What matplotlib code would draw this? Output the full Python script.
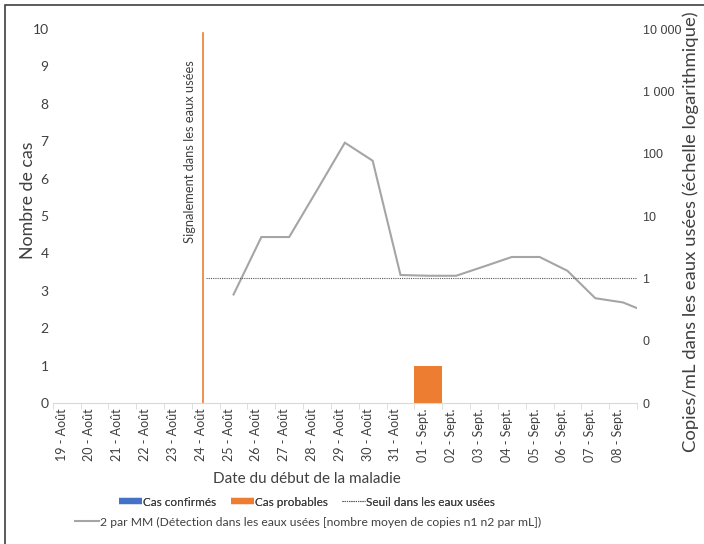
import matplotlib; matplotlib.use("Agg")
import matplotlib.pyplot as plt
import matplotlib.transforms as mtransforms
from matplotlib.lines import Line2D
from matplotlib.patches import Rectangle
from matplotlib.ticker import FixedLocator, FuncFormatter
import numpy as np

plt.rcParams['font.family'] = ['Lato', 'DejaVu Sans']
plt.rcParams['font.weight'] = 'normal'

BLUE = "#4472C4"; ORANGE = "#ED7D31"; GREY = "#A5A5A5"; TXT = "#404040"; AXIS = "#D9D9D9"

# --- data -------------------------------------------------------------
dates = ["19 - Août", "20 - Août", "21 - Août", "22 - Août", "23 - Août", "24 - Août",
         "25 - Août", "26 - Août", "27 - Août", "28 - Août", "29 - Août", "30 - Août",
         "31 - Août", "01 - Sept.", "02 - Sept.", "03 - Sept.", "04 - Sept.", "05 - Sept.",
         "06 - Sept.", "07 - Sept.", "08 - Sept."]
cas_confirmes = [0, 0, 0, 0, 0, 0, 0, 0, 0, 0, 0, 0, 0, 0, 0, 0, 0, 0, 0, 0, 0]
cas_probables = [0, 0, 0, 0, 0, 0, 0, 0, 0, 0, 0, 0, 0, 1, 0, 0, 0, 0, 0, 0, 0]

# copies/mL, from 25 Aug up to 09 Sept (last point falls past the axis edge)
eaux_debut = "25 - Août"
copies_ml = [0.55, 4.6, 4.6, 26, 150, 77, 1.13, 1.1, 1.1, 1.55, 2.2, 2.2, 1.32, 0.48, 0.41, 0.27]
seuil = 1.0
signalement = "24 - Août"

# --- figure -----------------------------------------------------------
fig = plt.figure(figsize=(7.04, 5.44), dpi=100)
fig.patch.set_facecolor("white")
ax = fig.add_axes([52.7/704, 1-403/544, (637-52.7)/704, 374/544])
ax2 = ax.twinx()

x = np.arange(len(dates))
ax.bar(x, cas_confirmes, width=1.0, color=BLUE, label="Cas confirmés")
ax.bar(x, cas_probables, width=1.0, bottom=cas_confirmes, color=ORANGE, label="Cas probables")

xs = dates.index(signalement)
ax.axvline(xs - 0.1, ymin=0, ymax=0.99, color=ORANGE, lw=1.2)
ax.text(xs - 0.56, 6.72, "Signalement dans les eaux usées", rotation=90,
        ha="center", va="center", fontsize=9.3, color=TXT)

x0 = dates.index(eaux_debut)
xw = np.arange(x0, x0 + len(copies_ml))
ax2.plot(xw, copies_ml, color=GREY, lw=1.5, solid_joinstyle="miter")
ax2.hlines(seuil, xs, len(dates) - 0.5, colors="#595959", linestyles=(0, (1, 1)), lw=0.8)

ax.set_xlim(-0.5, len(dates) - 0.5)
ax.set_ylim(0, 10)
ax.set_yticks(range(0, 11))
ax2.set_yscale("log")
ax2.set_ylim(0.01, 10000)
ax2.yaxis.set_major_locator(FixedLocator([0.01, 0.1, 1, 10, 100, 1000, 10000]))
ax2.yaxis.set_minor_locator(FixedLocator([]))
ax2.yaxis.set_major_formatter(FuncFormatter(
    lambda v, p: "0" if v < 1 else f"{int(round(v)):,}".replace(",", " ")))

for a in (ax, ax2):
    for s in ("top", "left", "right"):
        a.spines[s].set_visible(False)
    a.spines["bottom"].set_color(AXIS)
ax2.spines["bottom"].set_visible(False)

ax.set_xticks(x)
ax.set_xticklabels(dates, rotation=90, fontsize=9, color=TXT)
ax.set_xticks(np.arange(-0.5, len(dates)), minor=True)
ax.tick_params(axis="x", which="major", length=0, pad=4)
ax.tick_params(axis="x", which="minor", length=4, color=AXIS)
shift = mtransforms.ScaledTranslation(-5/100, 0, fig.dpi_scale_trans)
for lab in ax.get_xticklabels():
    lab.set_transform(lab.get_transform() + shift)

ax.tick_params(axis="y", length=0, labelsize=10, labelcolor=TXT, pad=3)
ax2.tick_params(axis="y", length=0, pad=4)
for lab in ax2.get_yticklabels():
    lab.set_family(["Liberation Sans", "DejaVu Sans"])
    lab.set_fontsize(9)
    lab.set_color(TXT)

fig.text(28/704, 1-200/544, "Nombre de cas", rotation=90, ha="center", va="center",
         fontsize=12.8, color=TXT)
fig.text(691/704, 1-232/544, "Copies/mL dans les eaux usées (échelle logarithmique)",
         rotation=90, ha="center", va="center", fontsize=13.3, color=TXT)
fig.text(307/704, 1-479/544, "Date du début de la maladie", ha="center", va="center",
         fontsize=11, color=TXT)

# legend, two rows
h1 = [Line2D([], [], color=BLUE, lw=4.5, solid_capstyle="butt"),
      Line2D([], [], color=ORANGE, lw=4.5, solid_capstyle="butt"),
      Line2D([], [], color="#595959", lw=0.8, ls=(0, (1, 1)))]
leg1 = fig.legend(h1, ["Cas confirmés", "Cas probables", "Seuil dans les eaux usées"],
                  loc="center", bbox_to_anchor=(307/704, 1-502/544), ncol=3, frameon=False,
                  prop={"size": 8.5, "weight": "normal"}, handlelength=1.95,
                  handletextpad=0.1, columnspacing=1.2, labelcolor=TXT)
h2 = [Line2D([], [], color=GREY, lw=1.5)]
fig.legend(h2, ["2 par MM (Détection dans les eaux usées [nombre moyen de copies n1 n2 par mL])"],
           loc="center", bbox_to_anchor=(308/704, 1-522/544), frameon=False,
           prop={"size": 8.7, "weight": "normal"}, handlelength=2.0,
           handletextpad=0.1, labelcolor=TXT)
fig.add_artist(leg1)

# outer chart frame
fig.patches.append(Rectangle((5/704, -0.1), 1.2, 1.1 - 5/544, transform=fig.transFigure,
                             fill=False, ec="#404040", lw=1.2))

fig.savefig("out.png", dpi=100)
